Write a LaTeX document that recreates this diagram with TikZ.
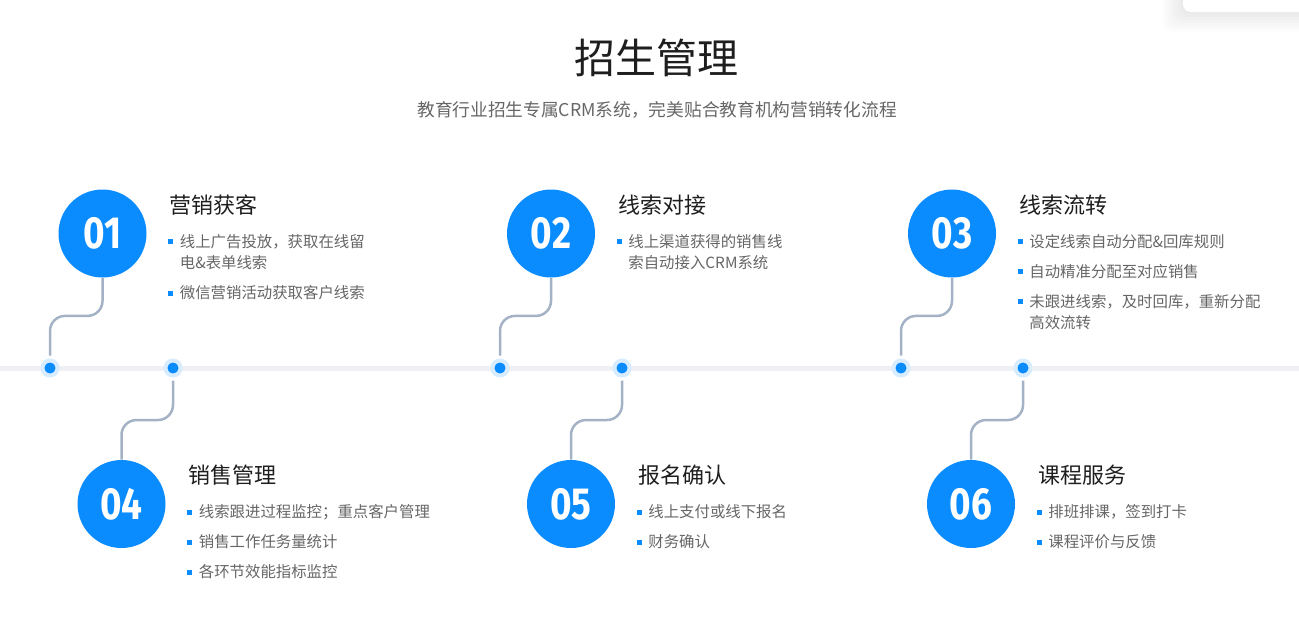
\documentclass[tikz,border=0pt]{standalone}
\usepackage{fontspec}
\setmainfont{Noto Sans CJK SC}
\newfontfamily\numfont[FakeStretch=0.82]{Fira Sans}
\usetikzlibrary{positioning,calc}
\definecolor{cblue}{HTML}{0A8CFF}
\definecolor{chalo}{HTML}{D8ECFF}
\definecolor{cline}{HTML}{EEF0F3}
\definecolor{clink}{HTML}{A4B2C6}
\definecolor{ctext}{HTML}{666666}
\definecolor{chead}{HTML}{1E1E1E}
\newcommand\bul{\par\noindent{\color{cblue}\rule[1.6pt]{2.5pt}{2.5pt}}\hspace{3.25pt}}
\newcommand\wrapl{\par\noindent\hspace*{5.75pt}}
\newcommand\bsep{\par\vspace{4.3pt}}
\tikzset{
  numball/.style={circle, fill=cblue, minimum size=44pt, inner sep=0pt, text=white, font=\numfont\bfseries\fontsize{22.5pt}{22.5pt}\selectfont},
  tdot/.style={circle, fill=cblue, draw=chalo, line width=2pt, minimum size=7.5pt, inner sep=0pt},
  sechead/.style={anchor=west, inner sep=0pt, text=chead, font=\fontsize{11pt}{11pt}\selectfont},
  seclist/.style={anchor=base west, inner sep=0pt, text width=140pt, text=ctext, font=\fontsize{7.7pt}{10.75pt}\selectfont},
  tlink/.style={draw=clink, line width=1.25pt, rounded corners=7.5pt},
  tline/.style={draw=cline, line width=2.5pt}
}

\begin{document}
\begin{tikzpicture}[x=0.5pt, y=-0.5pt]
\useasboundingbox (0,0) rectangle (1299,622);
% card peeking in at the top right
\foreach \s in {2,5,...,20}
  \fill[black, opacity=0.01, rounded corners=4pt] (1183-\s,-30) rectangle (1320,12+\s);
\fill[white, rounded corners=4pt] (1183,-30) rectangle (1320,12);

\node[font=\fontsize{20.5pt}{20.5pt}\selectfont, text=chead] (title) at (656,58) {招生管理};
\node[font=\fontsize{8.85pt}{8.85pt}\selectfont, text=ctext] (subtitle) at (657,110) {教育行业招生专属CRM系统，完美贴合教育机构营销转化流程};

% timeline
\coordinate (lft) at (0,368);
\coordinate (rgt) at (1299,368);
\draw[tline] (lft) -- (rgt);

\node[numball] (c1) at (102.5,233.5) {01};
\node[numball] (c2) at (551,233.5) {02};
\node[numball] (c3) at (952,233.5) {03};
\node[numball] (c4) at (121.5,504) {04};
\node[numball] (c5) at (571,504) {05};
\node[numball] (c6) at (971,504) {06};

\node[tdot] (d1) at (50,368) {};
\node[tdot] (d2) at (173,368) {};
\node[tdot] (d3) at (500,368) {};
\node[tdot] (d4) at (622,368) {};
\node[tdot] (d5) at (901,368) {};
\node[tdot] (d6) at (1023,368) {};

\draw[tlink, shorten >=1.5pt] (c1.south) -- ++(0,38) -| (d1.north);
\draw[tlink, shorten >=1.5pt] (c2.south) -- ++(0,38) -| (d3.north);
\draw[tlink, shorten >=1.5pt] (c3.south) -- ++(0,38) -| (d5.north);
\draw[tlink, shorten <=1.5pt] (d2.south) -- ++(0,42.5) -| (c4.north);
\draw[tlink, shorten <=1.5pt] (d4.south) -- ++(0,42.5) -| (c5.north);
\draw[tlink, shorten <=1.5pt] (d6.south) -- ++(0,42.5) -| (c6.north);

\node[sechead] (h1) at ($(c1)+(67,-28.5)$) {营销获客};
\node[seclist] (l1) at ($(h1.west)+(-1.5,20.7)$) {\bul 线上广告投放，获取在线留\wrapl 电\&表单线索\bsep\bul 微信营销活动获取客户线索};

\node[sechead] (h2) at ($(c2)+(67,-28.5)$) {线索对接};
\node[seclist] (l2) at ($(h2.west)+(-1.5,20.7)$) {\bul 线上渠道获得的销售线\wrapl 索自动接入CRM系统};

\node[sechead] (h3) at ($(c3)+(67,-28.5)$) {线索流转};
\node[seclist] (l3) at ($(h3.west)+(-1.5,20.7)$) {\bul 设定线索自动分配\&回库规则\bsep\bul 自动精准分配至对应销售\bsep\bul 未跟进线索，及时回库，重新分配\wrapl 高效流转};

\node[sechead] (h4) at ($(c4)+(67,-28.5)$) {销售管理};
\node[seclist] (l4) at ($(h4.west)+(-1.5,20.7)$) {\bul 线索跟进过程监控；重点客户管理\bsep\bul 销售工作任务量统计\bsep\bul 各环节效能指标监控};

\node[sechead] (h5) at ($(c5)+(67,-28.5)$) {报名确认};
\node[seclist] (l5) at ($(h5.west)+(-1.5,20.7)$) {\bul 线上支付或线下报名\bsep\bul 财务确认};

\node[sechead] (h6) at ($(c6)+(67,-28.5)$) {课程服务};
\node[seclist] (l6) at ($(h6.west)+(-1.5,20.7)$) {\bul 排班排课，签到打卡\bsep\bul 课程评价与反馈};
\end{tikzpicture}
\end{document}
